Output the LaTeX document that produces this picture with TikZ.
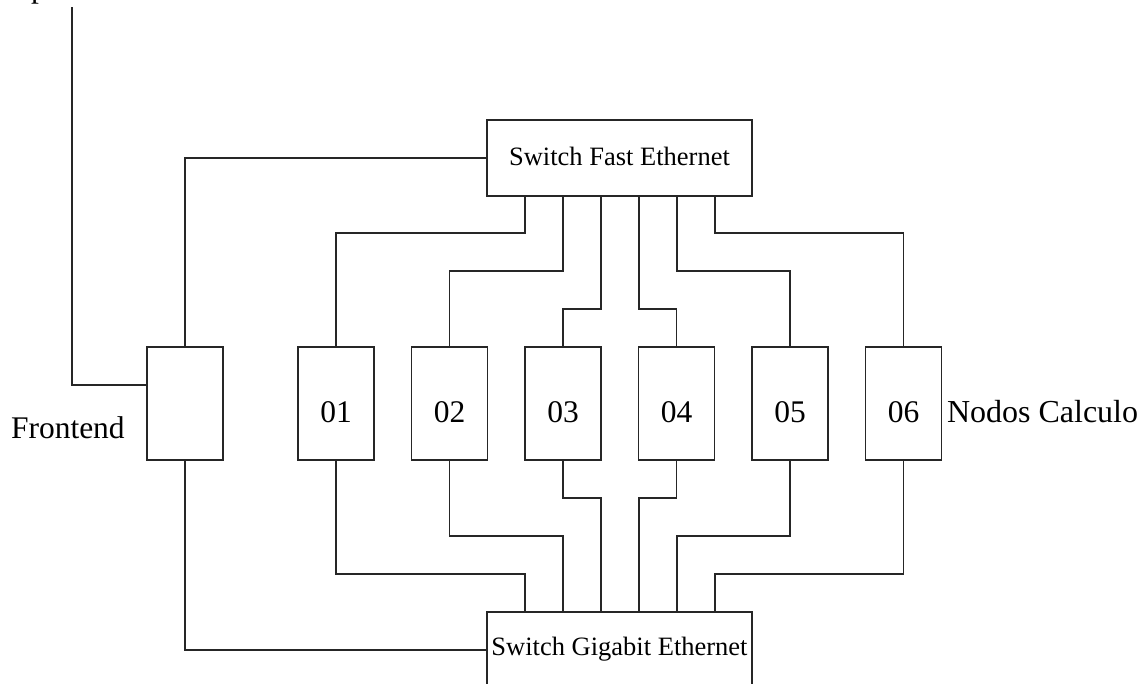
\documentclass[tikz,border=0pt]{standalone}
\usepackage{fontspec}
\setmainfont{Liberation Serif}
\usetikzlibrary{calc}
\begin{document}
\begin{tikzpicture}[x=1pt,y=-1pt,
  wire/.style={draw=black!85,line width=1.2pt},
  nodebox/.style={draw=black!85,line width=1.2pt,rectangle,minimum width=76pt,minimum height=113pt,inner sep=0pt,outer sep=0pt,font=\fontsize{31.5}{36}\selectfont,text height=37pt,text depth=0pt},
  switchbox/.style={draw=black!85,line width=1.2pt,rectangle,minimum width=265pt,minimum height=76pt,inner sep=0pt,outer sep=0pt,font=\fontsize{26.5}{30}\selectfont,text depth=0pt},
  lbl/.style={inner sep=0pt,outer sep=0pt,anchor=base west}
]
\useasboundingbox (0,0) rectangle (1142,683);
% switches
\node[switchbox,text height=14pt] (sf) at (619.5,158) {Switch Fast Ethernet\hspace{12pt}};
\node[switchbox,text height=10pt] (sg) at (619.5,650) {Switch Gigabit Ethernet};
% frontend and nodes
\node[nodebox] (fe) at (185,403.5) {};
\node[nodebox] (n1) at (336,403.5) {01};
\node[nodebox] (n2) at (449.5,403.5) {02};
\node[nodebox] (n3) at (563,403.5) {03};
\node[nodebox] (n4) at (676.5,403.5) {04};
\node[nodebox] (n5) at (790,403.5) {05};
\node[nodebox] (n6) at (903.5,403.5) {06};
% labels
\node[lbl,font=\fontsize{31.5}{36}\selectfont] (felbl) at (11,438) {Frontend};
\node[lbl,font=\fontsize{32}{36}\selectfont] (nclbl) at (947,422) {Nodos Calculo};
\node[lbl,font=\fontsize{31.5}{36}\selectfont] (toplbl) at (31,-2.5) {p};
\coordinate (in) at (72,7);
% uplink
\draw[wire] (in) |- ([yshift=18.5pt]fe.west);
% frontend links
\draw[wire] (sf.west) -| (fe.north);
\draw[wire] (fe.south) |- (sg.west);
% fast ethernet links
\draw[wire] ([xshift=38pt]sf.south west) -- ++(0,37) -| (n1.north);
\draw[wire] ([xshift=76pt]sf.south west) -- ++(0,75) -| (n2.north);
\draw[wire] ([xshift=114pt]sf.south west) -- ++(0,113) -| (n3.north);
\draw[wire] ([xshift=152pt]sf.south west) -- ++(0,113) -| (n4.north);
\draw[wire] ([xshift=190pt]sf.south west) -- ++(0,75) -| (n5.north);
\draw[wire] ([xshift=228pt]sf.south west) -- ++(0,37) -| (n6.north);
% gigabit links
\draw[wire] (n1.south) -- ++(0,114) -| ([xshift=38pt]sg.north west);
\draw[wire] (n2.south) -- ++(0,76) -| ([xshift=76pt]sg.north west);
\draw[wire] (n3.south) -- ++(0,38) -| ([xshift=114pt]sg.north west);
\draw[wire] (n4.south) -- ++(0,38) -| ([xshift=152pt]sg.north west);
\draw[wire] (n5.south) -- ++(0,76) -| ([xshift=190pt]sg.north west);
\draw[wire] (n6.south) -- ++(0,114) -| ([xshift=228pt]sg.north west);
\end{tikzpicture}
\end{document}
